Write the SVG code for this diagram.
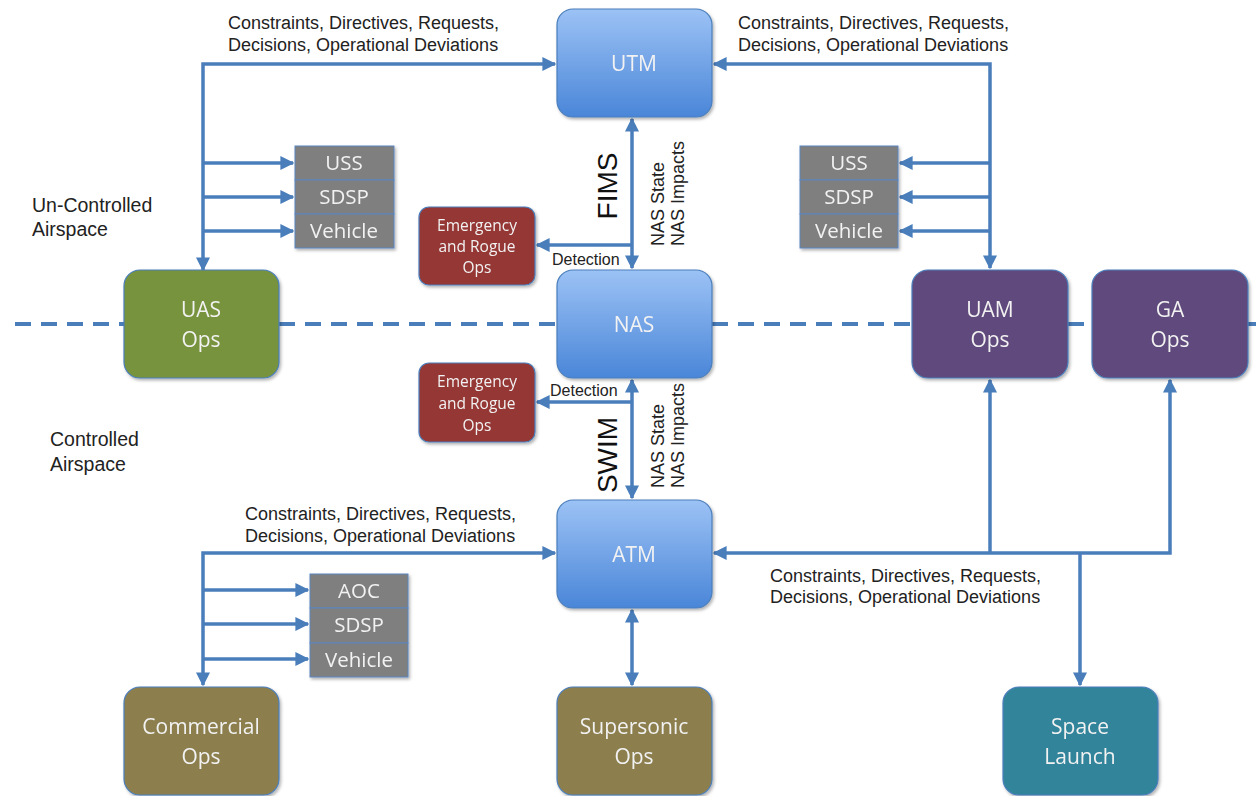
<svg xmlns="http://www.w3.org/2000/svg" width="1256" height="796" viewBox="0 0 1256 796">
<style>
.lbl{font-family:"Liberation Sans",Arial,sans-serif;font-size:18px;fill:#222}
.side{font-family:"Liberation Sans",Arial,sans-serif;font-size:19.5px;fill:#222}
.nt{font-family:"Open Sans","Noto Sans",sans-serif;font-size:21px;fill:#f2f2f2;text-anchor:middle}
.et{font-family:"Open Sans","Noto Sans",sans-serif;font-size:15.5px;fill:#f2f2f2;text-anchor:middle}
.gt{font-family:"Open Sans","Noto Sans",sans-serif;font-size:20.5px;fill:#f2f2f2;text-anchor:middle}
.det{font-family:"Liberation Sans",Arial,sans-serif;font-size:16px;fill:#222}
.big{font-family:"Liberation Sans",Arial,sans-serif;font-size:28px;fill:#111;text-anchor:middle}
.ns{font-family:"Liberation Sans",Arial,sans-serif;font-size:18px;fill:#222}
.con{stroke:#4a7ebb;stroke-width:3.5;fill:none}
.box{stroke:#4a7ebb;stroke-width:1.2}
.gray{fill:#7f7f7f;stroke:#5b86c0;stroke-width:1}
</style>
<defs>
<linearGradient id="blue" x1="0" y1="0" x2="0" y2="1">
<stop offset="0" stop-color="#9cc2f5"/>
<stop offset="1" stop-color="#4a86d8"/>
</linearGradient>
<marker id="ah" viewBox="0 0 10 10" refX="9" refY="5" markerWidth="4" markerHeight="4" orient="auto-start-reverse" markerUnits="strokeWidth">
<path d="M0,0 L10,5 L0,10 z" fill="#4a7ebb"/>
</marker>
<filter id="sh" x="-10%" y="-10%" width="130%" height="130%">
<feDropShadow dx="1.5" dy="2" stdDeviation="1.5" flood-color="#000" flood-opacity="0.3"/>
</filter>
</defs>

<g id="divider">
<path d="M15,324 H124 M279,324 H557 M712,324 H912 M1068,324 H1092 M1248,324 H1256" stroke="#4a7ebb" stroke-width="4" stroke-dasharray="16 10" fill="none"/>
</g>

<g id="connectors">
<path class="con" d="M203,270 V64 H555" marker-end="url(#ah)" marker-start="url(#ah)"/>
<path class="con" d="M203,163 H293" marker-end="url(#ah)"/>
<path class="con" d="M203,197 H293" marker-end="url(#ah)"/>
<path class="con" d="M203,231 H293" marker-end="url(#ah)"/>
<path class="con" d="M714,64 H990 V268" marker-start="url(#ah)" marker-end="url(#ah)"/>
<path class="con" d="M990,163 H900" marker-end="url(#ah)"/>
<path class="con" d="M990,197 H900" marker-end="url(#ah)"/>
<path class="con" d="M990,231 H900" marker-end="url(#ah)"/>
<path class="con" d="M632,119 V268" marker-start="url(#ah)" marker-end="url(#ah)"/>
<path class="con" d="M632,245 H537" marker-end="url(#ah)"/>
<path class="con" d="M632,380 V498" marker-start="url(#ah)" marker-end="url(#ah)"/>
<path class="con" d="M632,402 H537" marker-end="url(#ah)"/>
<path class="con" d="M203,685 V553 H555" marker-start="url(#ah)" marker-end="url(#ah)"/>
<path class="con" d="M203,590 H308" marker-end="url(#ah)"/>
<path class="con" d="M203,624 H308" marker-end="url(#ah)"/>
<path class="con" d="M203,659 H308" marker-end="url(#ah)"/>
<path class="con" d="M714,553 H1170 V380" marker-start="url(#ah)" marker-end="url(#ah)"/>
<path class="con" d="M990,553 V380" marker-end="url(#ah)"/>
<path class="con" d="M1080,553 V685" marker-end="url(#ah)"/>
<path class="con" d="M632,610 V685" marker-start="url(#ah)" marker-end="url(#ah)"/>
</g>

<g id="utm" filter="url(#sh)">
<rect class="box" x="557" y="9" width="155" height="108" rx="16" fill="url(#blue)"/>
<text class="nt" x="634" y="71">UTM</text>
</g>
<g id="nas" filter="url(#sh)">
<rect class="box" x="557" y="270" width="155" height="108" rx="16" fill="url(#blue)"/>
<text class="nt" x="634" y="332">NAS</text>
</g>
<g id="atm" filter="url(#sh)">
<rect class="box" x="557" y="500" width="155" height="108" rx="16" fill="url(#blue)"/>
<text class="nt" x="634" y="562">ATM</text>
</g>
<g id="uas" filter="url(#sh)">
<rect class="box" x="124" y="270" width="155" height="108" rx="16" fill="#77933c"/>
<text class="nt" x="201" y="317">UAS</text>
<text class="nt" x="201" y="347">Ops</text>
</g>
<g id="uam" filter="url(#sh)">
<rect class="box" x="912" y="270" width="156" height="108" rx="16" fill="#604a7b"/>
<text class="nt" x="990" y="317">UAM</text>
<text class="nt" x="990" y="347">Ops</text>
</g>
<g id="ga" filter="url(#sh)">
<rect class="box" x="1092" y="270" width="156" height="108" rx="16" fill="#604a7b"/>
<text class="nt" x="1170" y="317">GA</text>
<text class="nt" x="1170" y="347">Ops</text>
</g>
<g id="commercial" filter="url(#sh)">
<rect class="box" x="124" y="687" width="155" height="108" rx="16" fill="#8c7f4e"/>
<text class="nt" x="201" y="734">Commercial</text>
<text class="nt" x="201" y="764">Ops</text>
</g>
<g id="supersonic" filter="url(#sh)">
<rect class="box" x="557" y="687" width="155" height="108" rx="16" fill="#8c7f4e"/>
<text class="nt" x="634" y="734">Supersonic</text>
<text class="nt" x="634" y="764">Ops</text>
</g>
<g id="space" filter="url(#sh)">
<rect class="box" x="1003" y="687" width="155" height="108" rx="16" fill="#31849b"/>
<text class="nt" x="1080" y="734">Space</text>
<text class="nt" x="1080" y="764">Launch</text>
</g>
<g id="emergency1" filter="url(#sh)">
<rect class="box" x="419" y="207" width="116" height="78" rx="10" fill="#953735"/>
<text class="et" x="477" y="231">Emergency</text>
<text class="et" x="477" y="252">and Rogue</text>
<text class="et" x="477" y="273">Ops</text>
</g>
<g id="emergency2" filter="url(#sh)">
<rect class="box" x="419" y="363" width="116" height="79" rx="10" fill="#953735"/>
<text class="et" x="477" y="387">Emergency</text>
<text class="et" x="477" y="409">and Rogue</text>
<text class="et" x="477" y="431">Ops</text>
</g>
<g id="uasStack" filter="url(#sh)">
<rect class="gray" x="295" y="146" width="99" height="34"/>
<rect class="gray" x="295" y="180" width="99" height="34"/>
<rect class="gray" x="295" y="214" width="99" height="34"/>
<text class="gt" x="344" y="170">USS</text>
<text class="gt" x="344" y="204">SDSP</text>
<text class="gt" x="344" y="238">Vehicle</text>
</g>
<g id="uamStack" filter="url(#sh)">
<rect class="gray" x="800" y="146" width="98" height="34"/>
<rect class="gray" x="800" y="180" width="98" height="34"/>
<rect class="gray" x="800" y="214" width="98" height="34"/>
<text class="gt" x="849" y="170">USS</text>
<text class="gt" x="849" y="204">SDSP</text>
<text class="gt" x="849" y="238">Vehicle</text>
</g>
<g id="aocStack" filter="url(#sh)">
<rect class="gray" x="310" y="574" width="98" height="34"/>
<rect class="gray" x="310" y="608" width="98" height="35"/>
<rect class="gray" x="310" y="643" width="98" height="34"/>
<text class="gt" x="359" y="598">AOC</text>
<text class="gt" x="359" y="632">SDSP</text>
<text class="gt" x="359" y="667">Vehicle</text>
</g>

<g id="labels">
<text class="lbl" x="228" y="29">Constraints, Directives, Requests,</text>
<text class="lbl" x="228" y="51">Decisions, Operational Deviations</text>
<text class="lbl" x="738" y="29">Constraints, Directives, Requests,</text>
<text class="lbl" x="738" y="51">Decisions, Operational Deviations</text>
<text class="lbl" x="245" y="520">Constraints, Directives, Requests,</text>
<text class="lbl" x="245" y="542">Decisions, Operational Deviations</text>
<text class="lbl" x="770" y="582">Constraints, Directives, Requests,</text>
<text class="lbl" x="770" y="603">Decisions, Operational Deviations</text>
<text class="side" x="32" y="212">Un-Controlled</text>
<text class="side" x="32" y="236">Airspace</text>
<text class="side" x="50" y="446">Controlled</text>
<text class="side" x="50" y="471">Airspace</text>
<text class="det" x="552" y="265">Detection</text>
<text class="det" x="550" y="396">Detection</text>
<text class="big" transform="translate(617,186) rotate(-90)">FIMS</text>
<text class="big" transform="translate(617,455) rotate(-90)">SWIM</text>
<text class="ns" transform="translate(664,246) rotate(-90)">NAS  State</text>
<text class="ns" transform="translate(684,246) rotate(-90)">NAS Impacts</text>
<text class="ns" transform="translate(664,488) rotate(-90)">NAS  State</text>
<text class="ns" transform="translate(684,488) rotate(-90)">NAS Impacts</text>
</g>
</svg>
